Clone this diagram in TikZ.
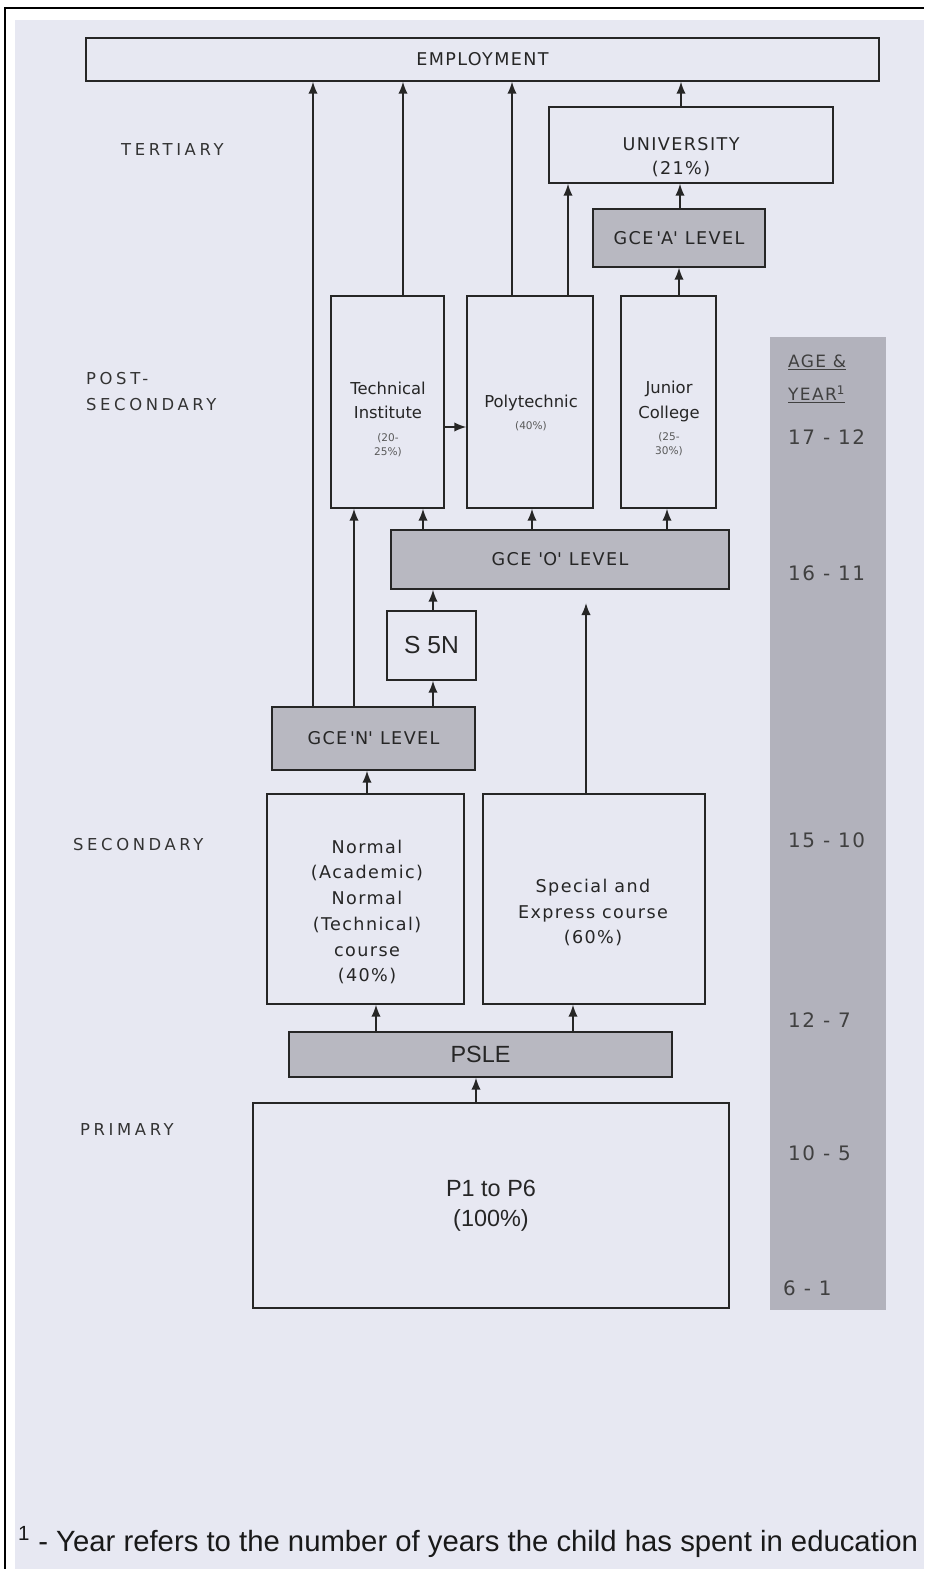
\documentclass[tikz,border=0pt]{standalone}
\usepackage{fontspec}
\setmainfont{Liberation Sans}
\newfontfamily\boxfont[LetterSpace=8]{DejaVu Sans}
\newfontfamily\lblfont[LetterSpace=22]{DejaVu Sans}
\newfontfamily\narrowfont{DejaVu Sans}
\usetikzlibrary{arrows.meta}
\definecolor{paper}{RGB}{231,232,242}
\definecolor{examgray}{RGB}{184,184,193}
\definecolor{agegray}{RGB}{178,178,188}

\begin{document}
\begin{tikzpicture}[x=0.03cm, y=-0.03cm,
  box/.style={rectangle, draw=black!85, line width=1.2pt, inner sep=0pt, align=center, text=black!85},
  exam/.style={box, fill=examgray},
  boxtxt/.style={align=center, inner sep=0pt, text=black!85},
  arr/.style={-{Latex[length=3.6mm,width=2.8mm]}, line width=1.3pt, draw=black!85},
  stagelbl/.style={anchor=west, align=left, inner sep=0pt, text=black!80, font=\lblfont\fontsize{14}{23}\selectfont},
  agelbl/.style={anchor=west, inner sep=0pt, text=black!75, font=\boxfont\fontsize{17}{20}\selectfont}
]
% page, scan area and frame
\useasboundingbox (0,0) rectangle (924,1569);
\fill[white] (0,0) rectangle (924,1569);
\fill[paper] (15,20) rectangle (924,1569);
\draw[line width=1.5pt] (5,1569) -- (5,8) -- (924,8);

% age column
\fill[agegray] (770,337) rectangle (886,1310);
\node[agelbl, font=\boxfont\fontsize{14.5}{17}\selectfont] (agehd) at (788,362) {\underline{AGE \&}};
\node[agelbl, font=\boxfont\fontsize{14.5}{17}\selectfont] (yearhd) at (788,394) {\underline{YEAR\textsuperscript{1}}};
\node[agelbl] (a17) at (788,437) {17 - 12};
\node[agelbl] (a16) at (788,573) {16 - 11};
\node[agelbl] (a15) at (788,840) {15 - 10};
\node[agelbl] (a12) at (788,1020) {12 - 7};
\node[agelbl] (a10) at (788,1153) {10 - 5};
\node[agelbl] (a6) at (783,1288) {6 - 1};

% stage labels
\node[stagelbl] (tert) at (121,150) {TERTIARY};
\node[stagelbl] (post) at (86,391.5) {POST-\\SECONDARY};
\node[stagelbl] (sec) at (73,845) {SECONDARY};
\node[stagelbl] (pri) at (80,1130) {PRIMARY};

% boxes
\node[box, minimum width=23.79cm, minimum height=1.29cm, font=\boxfont\fontsize{15}{18}\selectfont] (emp) at (482.5,59.5) {EMPLOYMENT};
\node[box, minimum width=8.52cm, minimum height=2.28cm] (univ) at (691,145) {};
\node[boxtxt, font=\boxfont\fontsize{15}{21}\selectfont] (univtxt) at (681,157) {UNIVERSITY\\(21\%)};
\node[exam, minimum width=5.16cm, minimum height=1.74cm, font=\boxfont\fontsize{15}{18}\selectfont] (gcea) at (679,238) {GCE\,\textquotesingle A\textquotesingle\ LEVEL};

\node[box, minimum width=3.39cm, minimum height=6.36cm] (tech) at (387.5,402) {};
\node[boxtxt, font=\narrowfont\fontsize{14}{21}\selectfont] (techtxt) at (388,400.5) {Technical\\Institute};
\node[boxtxt, text=black!65, font=\narrowfont\fontsize{9}{12}\selectfont] (techpct) at (388,445) {(20-\\25\%)};
\node[box, minimum width=3.78cm, minimum height=6.36cm] (poly) at (530,402) {};
\node[boxtxt, font=\narrowfont\fontsize{14}{21}\selectfont] (polytxt) at (531,403) {Polytechnic};
\node[boxtxt, text=black!65, font=\narrowfont\fontsize{9}{12}\selectfont] (polypct) at (531,426) {(40\%)};
\node[box, minimum width=2.85cm, minimum height=6.36cm] (jc) at (668.5,402) {};
\node[boxtxt, font=\narrowfont\fontsize{14}{21}\selectfont] (jctxt) at (669,401.5) {Junior\\College};
\node[boxtxt, text=black!65, font=\narrowfont\fontsize{9}{12}\selectfont] (jcpct) at (669,444) {(25-\\30\%)};

\node[exam, minimum width=10.14cm, minimum height=1.77cm, font=\boxfont\fontsize{15}{18}\selectfont] (gceo) at (560,559.5) {GCE \textquotesingle O\textquotesingle\ LEVEL};
\node[box, minimum width=2.67cm, minimum height=2.07cm, font=\fontsize{21}{24}\selectfont] (s5n) at (431.5,645.5) {S 5N};
\node[exam, minimum width=6.09cm, minimum height=1.89cm, font=\boxfont\fontsize{15}{18}\selectfont] (gcen) at (373.5,738.5) {GCE\,\textquotesingle N\textquotesingle\ LEVEL};

\node[box, minimum width=5.91cm, minimum height=6.3cm] (norm) at (365.5,899) {};
\node[boxtxt, font=\boxfont\fontsize{15}{22}\selectfont] (normtxt) at (367,912) {Normal\\(Academic)\\Normal\\(Technical)\\course\\(40\%)};
\node[box, minimum width=6.66cm, minimum height=6.3cm] (spec) at (594,899) {};
\node[boxtxt, font=\boxfont\fontsize{15}{22}\selectfont] (spectxt) at (593,912.5) {Special and\\Express course\\(60\%)};

\node[exam, minimum width=11.49cm, minimum height=1.35cm, font=\fontsize{20}{24}\selectfont] (psle) at (480.5,1054.5) {PSLE};
\node[box, minimum width=14.28cm, minimum height=6.15cm, font=\fontsize{20}{26}\selectfont] (prim) at (491,1205.5) {P1 to P6\\(100\%)};

% connectors
\draw[arr] (gcen.north -| 313,0) -- (emp.south -| 313,0);
\draw[arr] (gcen.north -| 354,0) -- (tech.south -| 354,0);
\draw[arr] (tech.north -| 403,0) -- (emp.south -| 403,0);
\draw[arr] (poly.north -| 512,0) -- (emp.south -| 512,0);
\draw[arr] (poly.north -| 568,0) -- (univ.south -| 568,0);
\draw[arr] (univ.north -| 681,0) -- (emp.south -| 681,0);
\draw[arr] (gcea.north -| 680,0) -- (univ.south -| 680,0);
\draw[arr] (jc.north -| 679,0) -- (gcea.south -| 679,0);
\draw[arr] (tech.east |- 0,427) -- (poly.west |- 0,427);
\draw[arr] (gceo.north -| 423,0) -- (tech.south -| 423,0);
\draw[arr] (gceo.north -| 532,0) -- (poly.south -| 532,0);
\draw[arr] (gceo.north -| 667,0) -- (jc.south -| 667,0);
\draw[arr] (s5n.north -| 433,0) -- (gceo.south -| 433,0);
\draw[arr] (gcen.north -| 433,0) -- (s5n.south -| 433,0);
\draw[arr, shorten >=0.4cm] (spec.north -| 586,0) -- (gceo.south -| 586,0);
\draw[arr] (norm.north -| 367,0) -- (gcen.south -| 367,0);
\draw[arr] (psle.north -| 376,0) -- (norm.south -| 376,0);
\draw[arr] (psle.north -| 573,0) -- (spec.south -| 573,0);
\draw[arr] (prim.north -| 476,0) -- (psle.south -| 476,0);

% footnote
\node[anchor=west, inner sep=0pt, text=black!90, font=\fontsize{25}{28}\selectfont] (note) at (18,1542) {\textsuperscript{1} - Year refers to the number of years the child has spent in education};
\end{tikzpicture}
\end{document}
